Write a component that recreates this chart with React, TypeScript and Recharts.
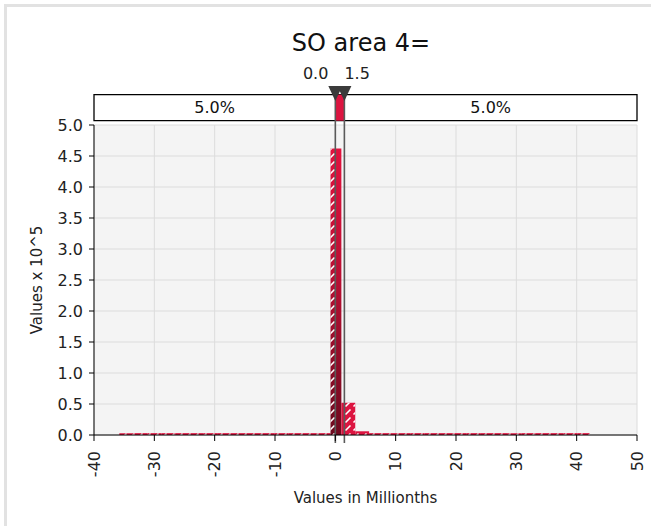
import React from 'react';
import { ComposedChart, XAxis, YAxis, CartesianGrid, ReferenceArea, ReferenceLine, ReferenceDot } from 'recharts';

// histogram bins (values x 10^5), edges in millionths
const binEdges = [
  -35.8, -33.47, -31.13, -28.8, -26.47, -24.13, -21.8, -19.47, -17.13, -14.8, -12.47, -10.13, -7.8, -5.47,
  -3.13, -0.8, 1.0, 3.3, 5.6, 7.9, 10.2, 12.5, 14.8, 17.1, 19.4, 21.7, 24.0, 26.3, 28.6, 30.9, 33.2, 35.5,
  37.8, 40.1, 42.2,
];
const binValues = [
  0.03, 0.03, 0.03, 0.03, 0.03, 0.03, 0.03, 0.03, 0.03, 0.03, 0.03, 0.03, 0.03, 0.03,
  0.03, 4.62, 0.52, 0.06, 0.03, 0.03, 0.03, 0.03, 0.03, 0.03, 0.03, 0.03, 0.03, 0.03, 0.03, 0.03, 0.03,
  0.03, 0.03, 0.03,
];

const xTicks = [-40, -30, -20, -10, 0, 10, 20, 30, 40, 50];
const yTicks = [0, 0.5, 1, 1.5, 2, 2.5, 3, 3.5, 4, 4.5, 5];

const rangeLow = 0;
const rangeHigh = 1.5;
const markers = [
  { value: rangeLow, label: '0.0', side: 'left' },
  { value: rangeHigh, label: '1.5', side: 'right' },
];
const tailLabels = ['5.0%', '5.0%'];

const RED = '#dc1440';
const FONT = 'DejaVu Sans';

const peakIndex = binValues.indexOf(Math.max(...binValues));

type Piece = { x1: number; x2: number; y: number; hatched: boolean; peak: boolean };

const pieces: Piece[] = [];
binValues.forEach((v, i) => {
  const lo = binEdges[i];
  const hi = binEdges[i + 1];
  const peak = i === peakIndex;
  if (lo < rangeLow) pieces.push({ x1: lo, x2: Math.min(hi, rangeLow), y: v, hatched: true, peak });
  if (hi > rangeLow && lo < rangeHigh)
    pieces.push({ x1: Math.max(lo, rangeLow), x2: Math.min(hi, rangeHigh), y: v, hatched: false, peak });
  if (hi > rangeHigh) pieces.push({ x1: Math.max(lo, rangeHigh), x2: hi, y: v, hatched: true, peak });
});

const XTick = (props: any) => {
  const { x, y, payload } = props;
  return (
    <text
      x={x}
      y={y}
      transform={`rotate(-90, ${x}, ${y})`}
      textAnchor="end"
      dominantBaseline="central"
      fontSize={16}
      fontFamily={FONT}
      fill="#222"
    >
      {payload.value}
    </text>
  );
};

const Marker = (props: any) => {
  const { cx, cy, m } = props;
  const left = m.side === 'left';
  return (
    <g>
      <path d={`M${cx - 7},${cy - 8} L${cx + 7},${cy - 8} L${cx},${cy + 7} Z`} fill="#3b3b3b" />
      <text
        x={left ? cx - 7 : cx}
        y={cy - 15}
        textAnchor={left ? 'end' : 'start'}
        fontSize={16}
        fontFamily={FONT}
        fill="#222"
      >
        {m.label}
      </text>
    </g>
  );
};

export default function App() {
  return (
    <div style={{ position: 'absolute', left: 0, top: 0, width: 651, height: 526, background: '#fff', overflow: 'hidden', fontFamily: FONT }}>
      <div style={{ position: 'absolute', left: 4, top: 4, width: 700, height: 600, borderLeft: '3px solid #e2e2e2', borderTop: '3px solid #e2e2e2' }} />
      <div style={{ position: 'absolute', left: 0, top: 31, width: 722, textAlign: 'center', fontSize: 24, lineHeight: '24px', color: '#111' }}>
        SO area 4=
      </div>
      <div style={{ position: 'absolute', left: 0, top: 0 }}>
        <ComposedChart width={651} height={526} margin={{ top: 125, right: 14, left: 34, bottom: 16 }}>
          <defs>
            <linearGradient id="peakGrad" x1="0" y1="0" x2="0" y2="1">
              <stop offset="0%" stopColor="#e2123e" />
              <stop offset="45%" stopColor="#b90f33" />
              <stop offset="100%" stopColor="#6e0a1f" />
            </linearGradient>
            <pattern id="hatch" patternUnits="userSpaceOnUse" width="8" height="8">
              <path d="M1.5,6.5 L6.5,1.5" stroke="#fff" strokeWidth={1.6} />
            </pattern>
          </defs>
          <CartesianGrid stroke="#dcdcdc" fill="#f4f4f4" vertical horizontal />
          <XAxis
            type="number"
            dataKey="x"
            domain={[-40, 50]}
            ticks={xTicks}
            allowDataOverflow
            stroke="#000"
            tickSize={6}
            tickMargin={10}
            tick={<XTick />}
            height={75}
            label={{
              content: (p: any) => {
                const vb = p.viewBox;
                return (
                  <text x={vb.x + vb.width / 2} y={vb.y + 68} textAnchor="middle" fontSize={15} fontFamily={FONT} fill="#222">
                    Values in Millionths
                  </text>
                );
              },
            }}
          />
          <YAxis
            type="number"
            domain={[0, 5]}
            ticks={yTicks}
            allowDataOverflow
            stroke="#000"
            tickSize={5}
            tickMargin={6}
            width={60}
            tick={{ fontSize: 16, fill: '#222', fontFamily: FONT }}
            tickFormatter={(v: number) => v.toFixed(1)}
            label={{
              content: (p: any) => {
                const vb = p.viewBox;
                const cx = vb.x + 3;
                const cy = vb.y + vb.height / 2;
                return (
                  <text
                    x={cx}
                    y={cy}
                    transform={`rotate(-90, ${cx}, ${cy})`}
                    textAnchor="middle"
                    dominantBaseline="central"
                    fontSize={15}
                    fontFamily={FONT}
                    fill="#222"
                  >
                    Values x 10^5
                  </text>
                );
              },
            }}
          />

          {pieces.map((p, i) => (
            <ReferenceArea
              key={`b${i}`}
              x1={p.x1}
              x2={p.x2}
              y1={0}
              y2={p.y}
              fill={p.peak ? 'url(#peakGrad)' : RED}
              fillOpacity={1}
              stroke="none"
              ifOverflow="visible"
            />
          ))}
          {pieces
            .filter((p) => p.hatched)
            .map((p, i) => (
              <ReferenceArea
                key={`h${i}`}
                x1={p.x1}
                x2={p.x2}
                y1={0}
                y2={p.y}
                fill="url(#hatch)"
                fillOpacity={1}
                stroke="none"
                ifOverflow="visible"
              />
            ))}

          {/* range box above the plot */}
          <ReferenceArea x1={-40} x2={50} y1={5.07} y2={5.49} fill="#fff" fillOpacity={1} stroke="#000" strokeWidth={1.3} ifOverflow="visible" />
          <ReferenceArea x1={rangeLow} x2={rangeHigh} y1={5.07} y2={5.49} fill={RED} fillOpacity={1} stroke="none" ifOverflow="visible" />
          <ReferenceArea
            x1={-40}
            x2={rangeLow}
            y1={5.07}
            y2={5.49}
            fill="none"
            stroke="none"
            ifOverflow="visible"
            label={{ value: tailLabels[0], position: 'center', fontSize: 16, fill: '#111', fontFamily: FONT }}
          />
          <ReferenceArea
            x1={rangeHigh}
            x2={50}
            y1={5.07}
            y2={5.49}
            fill="none"
            stroke="none"
            ifOverflow="visible"
            label={{ value: tailLabels[1], position: 'center', fontSize: 16, fill: '#111', fontFamily: FONT }}
          />

          {markers.map((m) => (
            <ReferenceLine
              key={`l${m.label}`}
              segment={[
                { x: m.value, y: -0.13 },
                { x: m.value, y: 5.45 },
              ]}
              stroke="#5a5a5a"
              strokeWidth={1.6}
              ifOverflow="visible"
            />
          ))}
          {markers.map((m) => (
            <ReferenceDot
              key={`m${m.label}`}
              x={m.value}
              y={5.5}
              ifOverflow="visible"
              shape={(props: any) => <Marker {...props} m={m} />}
            />
          ))}
        </ComposedChart>
      </div>
    </div>
  );
}
